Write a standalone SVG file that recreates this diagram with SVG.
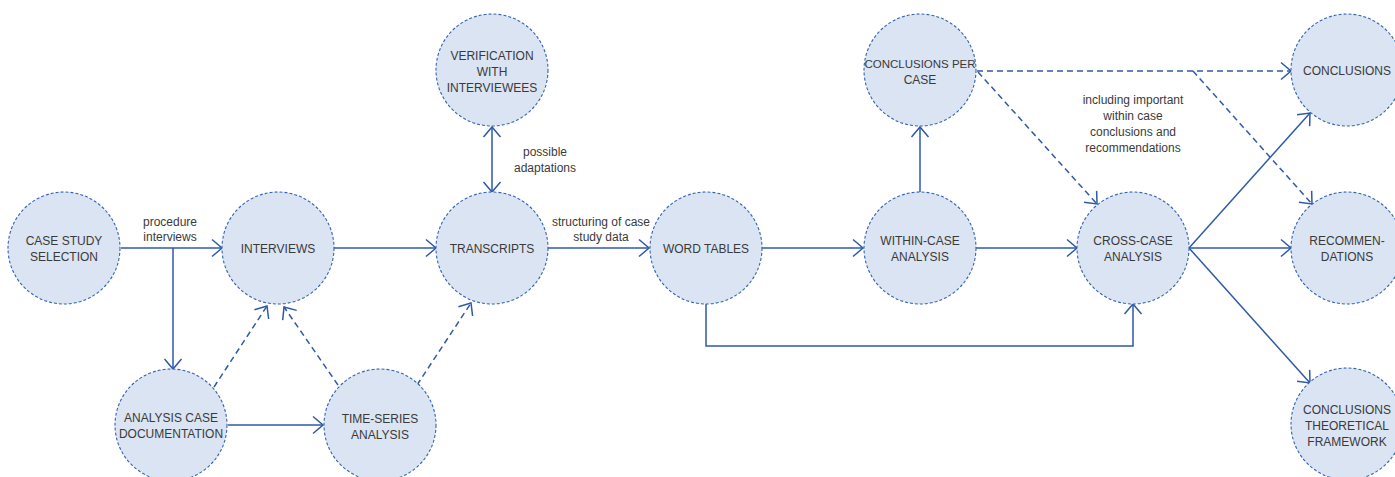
<svg xmlns="http://www.w3.org/2000/svg" width="1395" height="477" viewBox="0 0 1395 477">
  <style>
    .node circle { fill: #dae4f3; stroke: #3563b0; stroke-width: 1.1; stroke-dasharray: 3 2; }
    .node text { font-family: "Liberation Sans", Arial, sans-serif; font-size: 12px; fill: #3a3a3a; text-anchor: middle; }
    .edge { fill: none; stroke: #2f5aa8; stroke-width: 1.5; }
    .dash { stroke-dasharray: 6 4; }
    .lbl { font-family: "Liberation Sans", Arial, sans-serif; font-size: 12px; fill: #3a3a3a; text-anchor: middle; }
  </style>
  <defs>
    <marker id="arrow" markerUnits="userSpaceOnUse" viewBox="-12 -10 14 20" markerWidth="14" markerHeight="20" refX="0" refY="0" orient="auto-start-reverse">
      <path d="M-10,-8.5 L0,0 L-10,8.5" fill="none" stroke="#2f5aa8" stroke-width="1.5"/>
    </marker>
  </defs>

  <rect width="1395" height="477" fill="#ffffff"/>

  <!-- connectors -->
  <g id="connectors">
    <path class="edge" d="M121,248 H222" marker-end="url(#arrow)"/>
    <path class="edge" d="M173,248 V369" marker-end="url(#arrow)"/>
    <path class="edge" d="M228,425 H323" marker-end="url(#arrow)"/>
    <path class="edge dash" d="M214,387 L267,306" marker-end="url(#arrow)"/>
    <path class="edge dash" d="M338,385 L284,307" marker-end="url(#arrow)"/>
    <path class="edge dash" d="M417,385 L471,303" marker-end="url(#arrow)"/>
    <path class="edge" d="M334,248 H436" marker-end="url(#arrow)"/>
    <path class="edge" d="M492,127 V192" marker-start="url(#arrow)" marker-end="url(#arrow)"/>
    <path class="edge" d="M548,248 H649" marker-end="url(#arrow)"/>
    <path class="edge" d="M762,248 H863" marker-end="url(#arrow)"/>
    <path class="edge" d="M706,304 V346 H1133 V304" marker-end="url(#arrow)"/>
    <path class="edge" d="M920,192 V127" marker-end="url(#arrow)"/>
    <path class="edge" d="M976,248 H1077" marker-end="url(#arrow)"/>
    <path class="edge dash" d="M977,71 H1291" marker-end="url(#arrow)"/>
    <path class="edge dash" d="M978,72 L1097,204" marker-end="url(#arrow)"/>
    <path class="edge dash" d="M1193,71 L1312,204" marker-end="url(#arrow)"/>
    <path class="edge" d="M1189,248 L1310,113" marker-end="url(#arrow)"/>
    <path class="edge" d="M1189,248 H1291" marker-end="url(#arrow)"/>
    <path class="edge" d="M1189,248 L1310,383" marker-end="url(#arrow)"/>

    <text class="lbl" x="170" y="226">procedure</text>
    <text class="lbl" x="170" y="241">interviews</text>
    <text class="lbl" x="545" y="156">possible</text>
    <text class="lbl" x="545" y="172">adaptations</text>
    <text class="lbl" x="601" y="226">structuring of case</text>
    <text class="lbl" x="601" y="241">study data</text>
    <text class="lbl" x="1133" y="104">including important</text>
    <text class="lbl" x="1133" y="120">within case</text>
    <text class="lbl" x="1133" y="136">conclusions and</text>
    <text class="lbl" x="1133" y="152">recommendations</text>
  </g>

  <!-- nodes -->
  <g id="case-study-selection" class="node">
    <circle cx="64" cy="248" r="56"/>
    <text x="64" y="245">CASE STUDY</text>
    <text x="64" y="261">SELECTION</text>
  </g>
  <g id="interviews" class="node">
    <circle cx="278" cy="248" r="56"/>
    <text x="278" y="253">INTERVIEWS</text>
  </g>
  <g id="analysis-case-documentation" class="node">
    <circle cx="171" cy="425" r="56"/>
    <text x="171" y="422">ANALYSIS CASE</text>
    <text x="171" y="438">DOCUMENTATION</text>
  </g>
  <g id="time-series-analysis" class="node">
    <circle cx="380" cy="425" r="56"/>
    <text x="380" y="423">TIME-SERIES</text>
    <text x="380" y="439">ANALYSIS</text>
  </g>
  <g id="verification" class="node">
    <circle cx="492" cy="70" r="56"/>
    <text x="492" y="60">VERIFICATION</text>
    <text x="492" y="76">WITH</text>
    <text x="492" y="92">INTERVIEWEES</text>
  </g>
  <g id="transcripts" class="node">
    <circle cx="492" cy="248" r="56"/>
    <text x="492" y="253">TRANSCRIPTS</text>
  </g>
  <g id="word-tables" class="node">
    <circle cx="706" cy="248" r="56"/>
    <text x="706" y="253">WORD TABLES</text>
  </g>
  <g id="within-case-analysis" class="node">
    <circle cx="920" cy="248" r="56"/>
    <text x="920" y="245">WITHIN-CASE</text>
    <text x="920" y="261">ANALYSIS</text>
  </g>
  <g id="conclusions-per-case" class="node">
    <circle cx="920" cy="70" r="56"/>
    <text x="920" y="68" style="font-size:11.5px">CONCLUSIONS PER</text>
    <text x="920" y="84">CASE</text>
  </g>
  <g id="cross-case-analysis" class="node">
    <circle cx="1133" cy="248" r="56"/>
    <text x="1133" y="245">CROSS-CASE</text>
    <text x="1133" y="261">ANALYSIS</text>
  </g>
  <g id="conclusions" class="node">
    <circle cx="1347" cy="70" r="56"/>
    <text x="1347" y="75">CONCLUSIONS</text>
  </g>
  <g id="recommendations" class="node">
    <circle cx="1347" cy="248" r="56"/>
    <text x="1347" y="245">RECOMMEN-</text>
    <text x="1347" y="261">DATIONS</text>
  </g>
  <g id="conclusions-theoretical-framework" class="node">
    <circle cx="1347" cy="424" r="56"/>
    <text x="1347" y="414">CONCLUSIONS</text>
    <text x="1347" y="430">THEORETICAL</text>
    <text x="1347" y="446">FRAMEWORK</text>
  </g>
</svg>
